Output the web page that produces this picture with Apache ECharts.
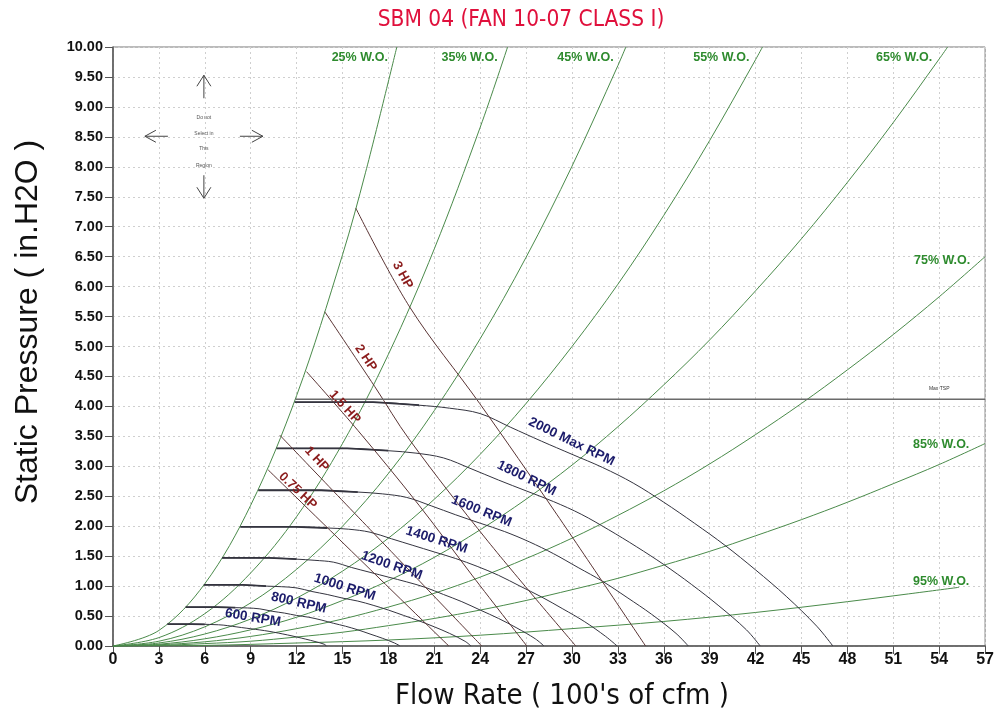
<!DOCTYPE html>
<html><head><meta charset="utf-8">
<script src="https://cdn.jsdelivr.net/npm/echarts@6/dist/echarts.min.js"></script>
<style>html,body{margin:0;padding:0;background:#fff}#c{width:997px;height:718px}</style>
</head><body><div id="c"></div>
<script>
// ---------- DATA ----------
const titleText = 'SBM 04 (FAN 10-07 CLASS I)';
const xAxisTitle = "Flow Rate ( 100's of cfm )";
const yAxisTitle = 'Static Pressure ( in.H2O )';
const xMin = 0, xMax = 57, xStep = 3;
const yMin = 0, yMax = 10, yStep = 0.5;
const maxTspValue = 4.12;

// system (wide-open) curves: [flow, static pressure]
const wo25 = [[0,0],[3,0.26],[6,1.04],[9,2.35],[12,4.18],[15,6.53],[16.5,7.9],[18.55,10]];
const wo35 = [[0,0],[3,0.14],[6,0.54],[9,1.22],[12,2.16],[15,3.38],[18,4.87],[21,6.63],[24,8.66],[25.79,10]];
const wo45 = [[0,0],[3,0.08],[6,0.32],[9,0.72],[12,1.28],[15,2.0],[18,2.88],[21,3.93],[24,5.13],[27,6.49],[30,8.01],[33,9.69],[33.52,10]];
const wo55 = [[0,0],[3,0.05],[6,0.2],[9,0.45],[12,0.8],[15,1.25],[18,1.8],[21,2.45],[24,3.2],[27,4.05],[30,5.0],[33,6.04],[36,7.19],[39,8.44],[42,9.79],[42.45,10]];
const wo65 = [[0,0],[3,0.03],[6,0.12],[9,0.27],[12,0.48],[15,0.76],[18,1.09],[21,1.48],[24,1.94],[27,2.45],[30,3.02],[33,3.66],[36,4.36],[39,5.11],[42,5.93],[45,6.8],[48,7.74],[51,8.74],[54,9.8],[54.55,10]];
const wo75 = [[0,0],[3,0.02],[6,0.07],[9,0.16],[12,0.29],[15,0.45],[18,0.65],[21,0.88],[24,1.15],[27,1.46],[30,1.8],[33,2.18],[36,2.59],[39,3.04],[42,3.53],[45,4.05],[48,4.61],[51,5.2],[54,5.83],[57,6.5]];
const wo85 = [[0,0],[3,0.01],[6,0.04],[9,0.08],[12,0.15],[15,0.23],[18,0.34],[21,0.46],[24,0.6],[27,0.76],[30,0.94],[33,1.13],[36,1.35],[39,1.58],[42,1.84],[45,2.11],[48,2.4],[51,2.71],[54,3.03],[57,3.38]];
const wo95 = [[0,0],[6,0.01],[12,0.05],[18,0.1],[24,0.18],[30,0.29],[36,0.41],[42,0.56],[48,0.74],[52,0.87],[55.3,0.98]];

// fan curves (RPM)
const rpm2000 = [[11.88,4.07],[14,4.07],[17,4.07],[20,4.02],[22,3.97],[24,3.88],[26,3.65],[28,3.42],[30,3.2],[32,2.98],[34,2.72],[36,2.4],[38,2.05],[40,1.68],[42,1.27],[44,0.83],[46,0.33],[47.05,0]];
const rpm1800 = [[10.69,3.3],[12.6,3.3],[15.3,3.3],[18,3.26],[19.8,3.22],[21.6,3.14],[23.4,2.96],[25.2,2.77],[27,2.59],[28.8,2.41],[30.6,2.2],[32.4,1.94],[34.2,1.66],[36,1.36],[37.8,1.03],[39.6,0.67],[41.4,0.27],[42.3,0]];
const rpm1600 = [[9.5,2.6],[11.2,2.6],[13.6,2.6],[16,2.57],[17.6,2.54],[19.2,2.48],[20.8,2.34],[22.4,2.19],[24,2.05],[25.6,1.91],[27.2,1.74],[28.8,1.54],[30.4,1.31],[32,1.08],[33.6,0.81],[35.2,0.53],[36.8,0.21],[37.6,0]];
const rpm1400 = [[8.32,1.99],[9.8,1.99],[11.9,1.99],[14,1.97],[15.4,1.95],[16.8,1.9],[18.2,1.79],[19.6,1.68],[21,1.57],[22.4,1.46],[23.8,1.33],[25.2,1.18],[26.6,1.0],[28,0.82],[29.4,0.62],[30.8,0.41],[32.2,0.16],[32.95,0]];
const rpm1200 = [[7.13,1.47],[8.4,1.47],[10.2,1.47],[12,1.45],[13.2,1.43],[14.4,1.4],[15.6,1.31],[16.8,1.23],[18,1.15],[19.2,1.07],[20.4,0.98],[21.6,0.86],[22.8,0.74],[24,0.6],[25.2,0.46],[26.4,0.3],[27.6,0.12],[28.17,0]];
const rpm1000 = [[5.94,1.02],[7,1.02],[8.5,1.02],[10,1.0],[11,0.99],[12,0.97],[13,0.91],[14,0.86],[15,0.8],[16,0.75],[17,0.68],[18,0.6],[19,0.51],[20,0.42],[21,0.32],[22,0.21],[23,0.08],[23.4,0]];
const rpm800  = [[4.75,0.65],[5.6,0.65],[6.8,0.65],[8,0.64],[8.8,0.635],[9.6,0.62],[10.4,0.58],[11.2,0.55],[12,0.51],[12.8,0.48],[13.6,0.435],[14.4,0.38],[15.2,0.33],[16,0.27],[16.8,0.2],[17.6,0.13],[18.4,0.05],[18.76,0]];
const rpm600  = [[3.56,0.366],[4.2,0.366],[5.1,0.366],[6,0.362],[6.6,0.357],[7.2,0.349],[7.8,0.329],[8.4,0.308],[9,0.288],[9.6,0.268],[10.2,0.245],[10.8,0.216],[11.4,0.185],[12,0.151],[12.6,0.114],[13.2,0.075],[13.8,0.03],[13.95,0]];

// brake horsepower lines
const hp3   = [[15.87,7.31],[19.39,5.66],[23.96,4.05],[29,2.2],[34.81,0]];
const hp2   = [[13.84,5.58],[17.11,4.33],[19.39,3.44],[24.5,1.75],[30.25,0]];
const hp15  = [[12.65,4.58],[16,3.6],[20,2.35],[23.5,1.17],[27.05,0]];
const hp1   = [[10.9,3.52],[17.5,1.76],[24.1,0]];
const hp075 = [[10.14,2.94],[16,1.48],[21.95,0]];

const maxTsp = [[11.92, maxTspValue],[57, maxTspValue]];

// ---------- STYLE ----------
const COND = "'DejaVu Sans Condensed','Liberation Sans',sans-serif";
const SANS = "'Liberation Sans','Arial',sans-serif";
const GREEN = '#4a8a4a', RPMC = '#34343f', HPC = '#5a3434';

const woSets = [wo25, wo35, wo45, wo55, wo65, wo75, wo85, wo95];
const rpmSets = [rpm2000, rpm1800, rpm1600, rpm1400, rpm1200, rpm1000, rpm800, rpm600];
const hpSets = [hp3, hp2, hp15, hp1, hp075];

function lineSeries(data, color, width, z) {
  return { type: 'line', data: data, showSymbol: false, smooth: 0.35, silent: true,
    lineStyle: { color: color, width: width }, z: z, animation: false };
}
const series = [];
woSets.forEach(d => series.push(lineSeries(d, GREEN, 1, 2)));
rpmSets.forEach(d => series.push(lineSeries(d, RPMC, 1, 3)));
// heavier start of each fan curve, as in the reference
rpmSets.forEach(d => series.push(Object.assign(lineSeries(d.slice(0, 4), RPMC, 1.8, 3), { smooth: false })));
hpSets.forEach(d => series.push(lineSeries(d, HPC, 1, 3)));
series.push(Object.assign(lineSeries(maxTsp, '#6a6a6a', 1.6, 4), { smooth: false }));

const chart = echarts.init(document.getElementById('c'), null, { renderer: 'canvas' });
const option = {
  backgroundColor: '#fff',
  animation: false,
  grid: { left: 113, right: 11, top: 47, bottom: 72, show: true, borderColor: '#777', borderWidth: 1 },
  xAxis: {
    type: 'value', min: xMin, max: xMax, interval: xStep,
    axisLine: { lineStyle: { color: '#555', width: 1.5 } },
    axisTick: { show: true, length: 8, lineStyle: { color: '#555' } },
    axisLabel: { fontFamily: SANS, fontWeight: 'bold', fontSize: 16, color: '#111', margin: 6 },
    splitLine: { show: true, lineStyle: { color: '#cfcfcf', type: [2, 3], width: 1 } }
  },
  yAxis: {
    type: 'value', min: yMin, max: yMax, interval: yStep,
    axisLine: { show: true, lineStyle: { color: '#555', width: 1.5 } },
    axisTick: { show: true, length: 8, lineStyle: { color: '#555' } },
    axisLabel: { fontFamily: SANS, fontWeight: 'bold', fontSize: 14.5, color: '#111', margin: 10,
      formatter: v => v.toFixed(2) },
    splitLine: { show: true, lineStyle: { color: '#cfcfcf', type: [2, 3], width: 1 } }
  },
  series: series
};
chart.setOption(option);

// ---------- ANNOTATIONS ----------
const WOL = { color: '#2e8b2e', font: 'bold 12.5px ' + SANS };
const RPL = { color: '#1c1c6b', font: 'bold 13.5px ' + SANS };
const HPL = { color: '#8b1c1c', font: 'bold 13px ' + SANS };
const annotations = [
  Object.assign({ text: '25% W.O.', at: [16.13, 9.82], rot: 0 }, WOL),
  Object.assign({ text: '35% W.O.', at: [23.31, 9.82], rot: 0 }, WOL),
  Object.assign({ text: '45% W.O.', at: [30.88, 9.82], rot: 0 }, WOL),
  Object.assign({ text: '55% W.O.', at: [39.76, 9.82], rot: 0 }, WOL),
  Object.assign({ text: '65% W.O.', at: [51.71, 9.82], rot: 0 }, WOL),
  Object.assign({ text: '75% W.O.', at: [54.19, 6.44], rot: 0 }, WOL),
  Object.assign({ text: '85% W.O.', at: [54.13, 3.37], rot: 0 }, WOL),
  Object.assign({ text: '95% W.O.', at: [54.13, 1.07], rot: 0 }, WOL),
  Object.assign({ text: '2000 Max RPM', at: [29.97, 3.41], rot: -26 }, RPL),
  Object.assign({ text: '1800 RPM', at: [27.03, 2.80], rot: -26 }, RPL),
  Object.assign({ text: '1600 RPM', at: [24.09, 2.25], rot: -22 }, RPL),
  Object.assign({ text: '1400 RPM', at: [21.15, 1.77], rot: -17.5 }, RPL),
  Object.assign({ text: '1200 RPM', at: [18.22, 1.34], rot: -19 }, RPL),
  Object.assign({ text: '1000 RPM', at: [15.15, 0.98], rot: -17.5 }, RPL),
  Object.assign({ text: '800 RPM', at: [12.14, 0.72], rot: -13 }, RPL),
  Object.assign({ text: '600 RPM', at: [9.14, 0.47], rot: -9.5 }, RPL),
  Object.assign({ text: '3 HP', at: [18.93, 6.19], rot: -61 }, HPL),
  Object.assign({ text: '2 HP', at: [16.52, 4.81], rot: -56 }, HPL),
  Object.assign({ text: '1.5 HP', at: [15.15, 3.99], rot: -48 }, HPL),
  Object.assign({ text: '1 HP', at: [13.32, 3.12], rot: -47 }, HPL),
  Object.assign({ text: '0.75 HP', at: [12.08, 2.59], rot: -43.5 }, HPL),
  { text: 'Max TSP', at: [54.0, 4.29], rot: 0, color: '#333', font: '5px ' + SANS }
];
const arrowCenter = [5.94, 8.51];
const noteLines = ['Do not', 'Select in', 'This', 'Region'];

const graphics = [];
graphics.push({ type: 'text', x: 521, y: 20, z: 100,
  style: { text: titleText, fill: '#e0103c', font: '22.5px ' + COND, align: 'center', verticalAlign: 'middle' } });
graphics.push({ type: 'text', x: 562, y: 696, z: 100,
  style: { text: xAxisTitle, fill: '#111', font: '29px ' + COND, align: 'center', verticalAlign: 'middle' } });
graphics.push({ type: 'text', x: 28, y: 322, rotation: Math.PI / 2, z: 100,
  style: { text: yAxisTitle, fill: '#111', font: '32px ' + SANS, align: 'center', verticalAlign: 'middle' } });
annotations.forEach(a => {
  const p = chart.convertToPixel({ gridIndex: 0 }, a.at);
  graphics.push({ type: 'text', x: p[0], y: p[1], rotation: a.rot * Math.PI / 180, z: 100,
    style: { text: a.text, fill: a.color, font: a.font, align: 'center', verticalAlign: 'middle' } });
});
const c = chart.convertToPixel({ gridIndex: 0 }, arrowCenter);
const AS = { stroke: '#444', lineWidth: 1, fill: null };
const arrowParts = [
  [[0, -38], [0, -61]], [[-7, -50], [0, -61], [7, -50]],
  [[0, 39], [0, 62]], [[-7, 51], [0, 62], [7, 51]],
  [[-36, 0], [-59, 0]], [[-48, -6], [-59, 0], [-48, 6]],
  [[36, 0], [59, 0]], [[48, -6], [59, 0], [48, 6]]
];
arrowParts.forEach(pts => graphics.push({ type: 'polyline', z: 100,
  shape: { points: pts.map(q => [c[0] + q[0], c[1] + q[1]]) }, style: AS }));
[-19, -3, 12, 29].forEach((dy, i) => graphics.push({ type: 'text', x: c[0], y: c[1] + dy, z: 100,
  style: { text: noteLines[i], fill: '#555', font: '5px ' + SANS, align: 'center', verticalAlign: 'middle' } }));
chart.setOption({ graphic: graphics });
</script>
</body></html>
